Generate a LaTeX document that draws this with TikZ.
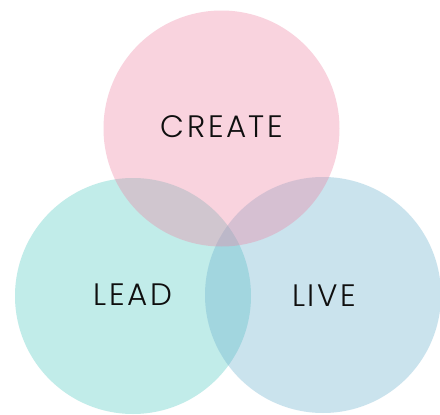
\documentclass[tikz,border=0pt]{standalone}
\usepackage{fontspec}
\newfontfamily\labelfont[LetterSpace=8]{Poppins Light}
\definecolor{pinkc}{RGB}{238,129,161}
\definecolor{tealc}{RGB}{78,201,192}
\definecolor{bluec}{RGB}{106,175,206}
\definecolor{inkc}{RGB}{15,15,15}
\begin{document}
\begin{tikzpicture}[x=1pt,y=-1pt,
  venn/.style={circle,minimum size=236pt,inner sep=0pt,fill opacity=0.35,draw=none},
  lbl/.style={font=\labelfont\fontsize{31}{34}\selectfont,text=inkc,inner sep=0pt,anchor=base}]
\fill[white] (0,0) rectangle (440,415);
\useasboundingbox (0,0) rectangle (440,415);
\node[venn,fill=tealc] (lead) at (133,296) {};
\node[venn,fill=bluec] (live) at (323,295) {};
\node[venn,fill=pinkc] (create) at (221.5,128.5) {};
\node[lbl] (tcreate) at (222,137) {CREATE};
\node[lbl] (tlead) at (133,305) {LEAD};
\node[lbl] (tlive) at (324,306) {LIVE};
\end{tikzpicture}
\end{document}
